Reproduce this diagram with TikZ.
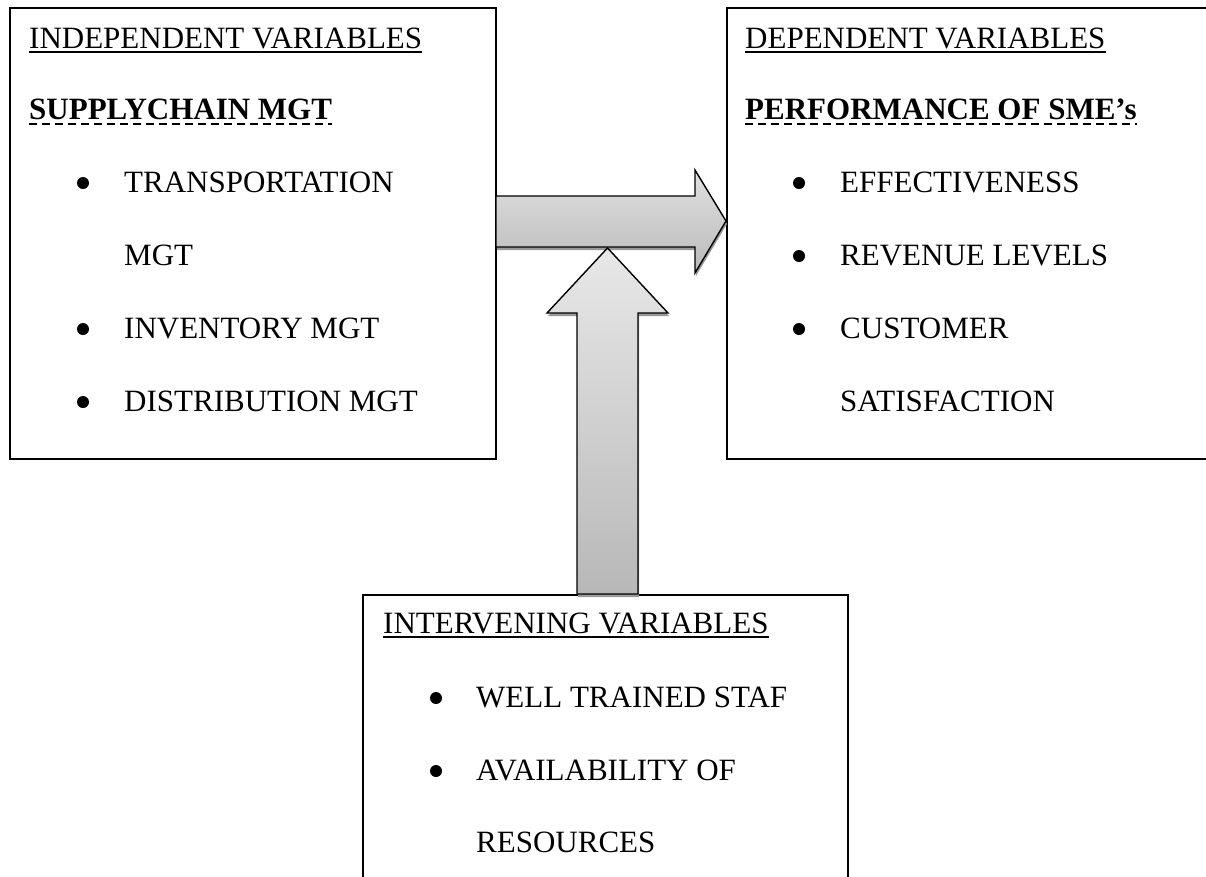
\documentclass[tikz,border=0pt]{standalone}
\usepackage{fontspec}
\setmainfont{Liberation Serif}
\begin{document}
\begin{tikzpicture}[x=1pt,y=-1pt,
  frame/.style={draw=black, line width=1.8pt, anchor=north west, inner sep=0pt},
  txt/.style={anchor=base west, inner sep=0pt, font=\fontsize{31}{37}\selectfont},
  btxt/.style={anchor=base west, inner sep=0pt, font=\fontsize{31}{37}\selectfont\bfseries},
  uline/.style={line width=1.8pt},
  dline/.style={line width=1.8pt, dash pattern=on 8pt off 5pt},
  dot/.style={circle, fill=black, inner sep=0pt, minimum size=12pt},
  blockarrow/.style={draw=black, line width=1.4pt, line join=miter},
  arrowshadow/.style={fill=black!40}
]
\useasboundingbox (0,0) rectangle (1206,876);
\clip (0,0) rectangle (1206,876);

% the three variable boxes
\node[frame, minimum width=486pt, minimum height=451pt] (indep) at (9,7) {};
\node[frame, minimum width=500pt, minimum height=451pt] (dep) at (726,7) {};
\node[frame, minimum width=485pt, minimum height=300pt] (interv) at (362,594) {};

% independent variables
\node[txt] (indepHead) at (29,48) {INDEPENDENT VARIABLES};
\draw[uline] ([yshift=-4pt]indepHead.base west) -- ([yshift=-4pt]indepHead.base east);
\node[btxt] (scm) at (29,119) {SUPPLYCHAIN MGT};
\draw[dline] ([yshift=-5pt]scm.base west) -- ([yshift=-5pt]scm.base east);
\node[dot] (ib1) at (83,183) {};
\node[txt] (it1) at (124,192) {TRANSPORTATION};
\node[txt] (it1b) at (124,265) {MGT};
\node[dot] (ib2) at (83,329) {};
\node[txt] (it2) at (124,338) {INVENTORY MGT};
\node[dot] (ib3) at (83,402) {};
\node[txt] (it3) at (124,411) {DISTRIBUTION MGT};

% dependent variables
\node[txt] (depHead) at (745,48) {DEPENDENT VARIABLES};
\draw[uline] ([yshift=-4pt]depHead.base west) -- ([yshift=-4pt]depHead.base east);
\node[btxt] (perf) at (745,119) {PERFORMANCE OF SME’s};
\draw[dline] ([yshift=-5pt]perf.base west) -- ([yshift=-5pt]perf.base east);
\node[dot] (db1) at (799,183) {};
\node[txt] (dt1) at (840,192) {EFFECTIVENESS};
\node[dot] (db2) at (799,256) {};
\node[txt] (dt2) at (840,265) {REVENUE LEVELS};
\node[dot] (db3) at (799,329) {};
\node[txt] (dt3) at (840,338) {CUSTOMER};
\node[txt] (dt3b) at (840,411) {SATISFACTION};

% intervening variables
\node[txt] (intHead) at (383,633) {INTERVENING VARIABLES};
\draw[uline] ([yshift=-4pt]intHead.base west) -- ([yshift=-4pt]intHead.base east);
\node[dot] (nb1) at (436,698) {};
\node[txt] (nt1) at (476,707) {WELL TRAINED STAF};
\node[dot] (nb2) at (436,771) {};
\node[txt] (nt2) at (476,780) {AVAILABILITY OF};
\node[txt] (nt2b) at (476,852) {RESOURCES};

% block arrow: independent -> dependent
\coordinate (hTail) at (496,221);
\coordinate (hTip) at (726,221);
\fill[arrowshadow] ([shift={(1,3)}]hTail) ++(0,-25) -- ++(199,0) -- ++(0,-26) -- ([shift={(1,3)}]hTip) -- ++(-31,52) -- ++(0,-26) -- ++(-199,0) -- cycle;
\shade[blockarrow, top color=black!12, bottom color=black!27]
  (hTail) ++(0,-25) -- ++(199,0) -- ++(0,-26) -- (hTip) -- ++(-31,52) -- ++(0,-26) -- ++(-199,0) -- cycle;

% block arrow: intervening -> relationship
\coordinate (vTail) at (607.5,594);
\coordinate (vTip) at (607.5,248);
\fill[arrowshadow] ([shift={(1,3)}]vTail) ++(-30.5,0) -- ++(0,-281) -- ++(-30,0) -- ([shift={(1,3)}]vTip) -- ++(60.5,65) -- ++(-30,0) -- ++(0,281) -- cycle;
\shade[blockarrow, top color=black!9, bottom color=black!28]
  (vTail) ++(-30.5,0) -- ++(0,-281) -- ++(-30,0) -- (vTip) -- ++(60.5,65) -- ++(-30,0) -- ++(0,281) -- cycle;
\end{tikzpicture}
\end{document}
